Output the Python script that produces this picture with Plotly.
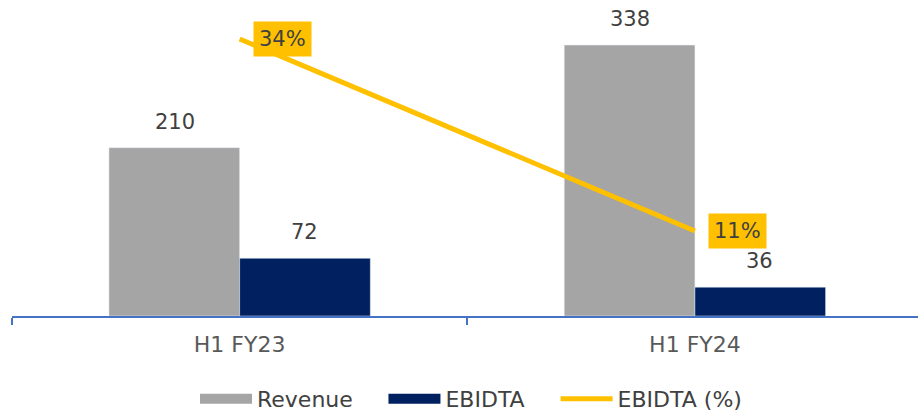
import plotly.graph_objects as go

categories = ["H1 FY23", "H1 FY24"]
revenue = [210, 338]
ebitda = [72, 36]
ebitda_pct = [0.34, 0.11]

GRAY = "#A5A5A5"
NAVY = "#002060"
YELLOW = "#FFC000"
TXT = "#404040"
FONT = "DejaVu Sans"

fig = go.Figure()
fig.add_trace(go.Bar(x=categories, y=revenue, name="Revenue", marker_color=GRAY,
                     showlegend=False, yaxis="y"))
fig.add_trace(go.Bar(x=categories, y=ebitda, name="EBIDTA", marker_color=NAVY,
                     showlegend=False, yaxis="y"))
fig.add_trace(go.Scatter(x=categories, y=ebitda_pct, name="EBIDTA (%)", mode="lines",
                         line=dict(color=YELLOW, width=5), yaxis="y2", showlegend=False))
# legend entries (one legend each so they can be placed like the reference)
fig.add_trace(go.Scatter(x=[None], y=[None], mode="lines", name="Revenue",
                         line=dict(color=GRAY, width=11), legend="legend"))
fig.add_trace(go.Scatter(x=[None], y=[None], mode="lines", name="EBIDTA",
                         line=dict(color=NAVY, width=11), legend="legend2"))
fig.add_trace(go.Scatter(x=[None], y=[None], mode="lines", name="EBIDTA (%)",
                         line=dict(color=YELLOW, width=5), legend="legend3"))

ann = []
for c, v in zip(categories, revenue):
    ann.append(dict(x=c, y=v, xref="x", yref="y", text=str(v), showarrow=False,
                    xshift=-65, yshift=26, font=dict(size=21, color=TXT, family=FONT)))
for c, v in zip(categories, ebitda):
    ann.append(dict(x=c, y=v, xref="x", yref="y", text=str(v), showarrow=False,
                    xshift=65, yshift=26, font=dict(size=21, color=TXT, family=FONT)))
for c, v in zip(categories, ebitda_pct):
    ann.append(dict(x=c, y=v, xref="x", yref="y2", text=f"{round(v*100)}%", showarrow=False,
                    xshift=43, bgcolor=YELLOW, borderpad=5,
                    font=dict(size=21, color=TXT, family=FONT)))

leg_common = dict(orientation="h", xanchor="left", y=-0.2804, yanchor="middle",
                  font=dict(size=22, color=TXT, family=FONT), itemwidth=52,
                  bgcolor="rgba(0,0,0,0)")

fig.update_layout(
    width=918, height=413,
    margin=dict(l=12, r=0, t=20, b=97, autoexpand=False),
    paper_bgcolor="white", plot_bgcolor="white",
    barmode="group", bargap=0.426, bargroupgap=0,
    font=dict(family=FONT, color=TXT),
    xaxis=dict(range=[-0.5, 1.49], showline=True, linecolor="#4472C4", linewidth=2,
               ticks="outside", tickson="boundaries", ticklen=7, tickcolor="#4472C4",
               tickwidth=2, tickfont=dict(size=22, color="#595959", family=FONT),
               ticklabelstandoff=8, showgrid=False, automargin=False),
    yaxis=dict(range=[0, 369.3], visible=False, showgrid=False),
    yaxis2=dict(range=[0.00815, 0.3627], overlaying="y", visible=False, showgrid=False),
    legend=dict(x=0.2020, **leg_common),
    legend2=dict(x=0.4100, **leg_common),
    legend3=dict(x=0.6000, **leg_common),
    annotations=ann,
)

fig.write_html("out.html", config={"displayModeBar": False},
               post_script="document.body.style.margin='0';")
